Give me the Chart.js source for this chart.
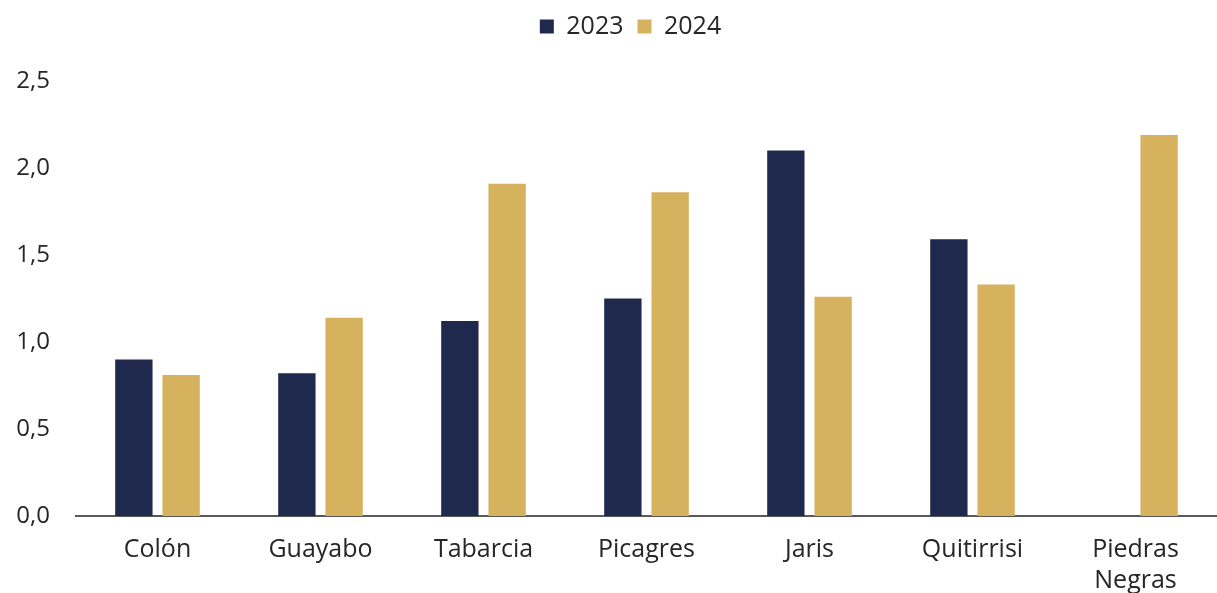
<!DOCTYPE html>
<html>
<head>
<meta charset="utf-8">
<script src="https://cdn.jsdelivr.net/npm/chart.js@4"></script>
<style>
  html, body { margin: 0; padding: 0; background: #fff; }
  #wrap { width: 1217px; height: 593px; }
</style>
</head>
<body>
<div id="wrap"><canvas id="grafico"></canvas></div>
<script>
// Dados
const categorias = ['Colón', 'Guayabo', 'Tabarcia', 'Picagres', 'Jaris', 'Quitirrisi', ['Piedras', 'Negras']];
const valores2023 = [0.90, 0.82, 1.12, 1.25, 2.10, 1.59, null];
const valores2024 = [0.81, 1.14, 1.91, 1.86, 1.26, 1.33, 2.19];
const ticksY = [0, 0.5, 1.0, 1.5, 2.0, 2.5];

const fonte = "'Open Sans', 'Noto Sans', sans-serif";

// Espaço extra abaixo da legenda e leve deslocamento para a direita
const ajusteLegenda = {
  id: 'ajusteLegenda',
  beforeInit(chart) {
    const fitOriginal = chart.legend.fit;
    chart.legend.fit = function () {
      fitOriginal.bind(chart.legend)();
      this.height += 32;
    };
  },
  afterLayout(chart) {
    chart.legend.left += 44;
  }
};

const ctx = document.getElementById('grafico').getContext('2d');
new Chart(ctx, {
  type: 'bar',
  data: {
    labels: categorias,
    datasets: [
      { label: '2023', data: valores2023, backgroundColor: '#1e294d' },
      { label: '2024', data: valores2024, backgroundColor: '#d6b25e' }
    ]
  },
  options: {
    responsive: true,
    maintainAspectRatio: false,
    animation: false,
    datasets: { bar: { barPercentage: 0.79, categoryPercentage: 0.58 } },
    layout: { padding: { left: 0, right: 0, top: 0, bottom: 0 } },
    plugins: {
      legend: {
        position: 'top',
        labels: {
          color: '#262626',
          font: { family: fonte, size: 25 },
          boxWidth: 14,
          boxHeight: 14,
          padding: 14
        }
      },
      tooltip: { enabled: false }
    },
    scales: {
      x: {
        grid: { display: false, drawTicks: false },
        border: { color: '#595959', width: 2 },
        afterFit: axis => { axis.height = 77; },
        ticks: { color: '#262626', font: { family: fonte, size: 25, lineHeight: 1.25 }, padding: 18, maxRotation: 0 }
      },
      y: {
        min: 0,
        max: 2.5,
        afterBuildTicks: axis => { axis.ticks = ticksY.map(v => ({ value: v })); },
        afterFit: axis => { axis.width = 76; },
        grid: { display: false, drawTicks: false },
        border: { display: false },
        ticks: {
          color: '#262626',
          font: { family: fonte, size: 24 },
          padding: 26,
          callback: v => v.toFixed(1).replace('.', ',')
        }
      }
    }
  },
  plugins: [ajusteLegenda]
});
</script>
</body>
</html>
